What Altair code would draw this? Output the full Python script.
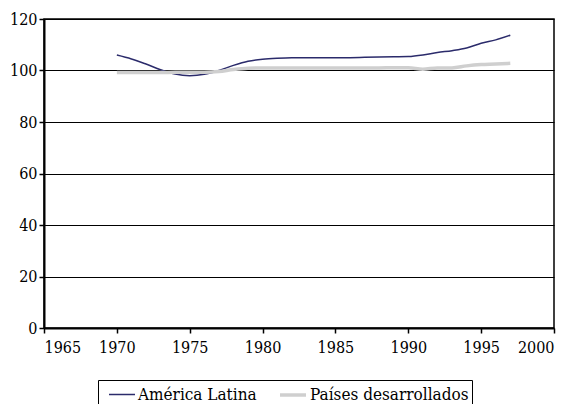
import altair as alt
import pandas as pd

years = list(range(1970, 1998))
america_latina = [106.0, 104.5, 102.5, 100.3, 98.6, 98.0, 98.5, 100.0, 102.0, 103.6,
                  104.4, 104.8, 105.0, 105.0, 105.0, 105.0, 105.0, 105.1, 105.2, 105.3,
                  105.4, 106.0, 107.0, 107.7, 108.7, 110.6, 111.9, 113.7]
paises_desarrollados = [99.2, 99.2, 99.2, 99.2, 99.3, 99.3, 99.3, 99.6, 100.4, 100.9,
                        101.0, 101.0, 101.0, 101.0, 101.0, 101.0, 101.0, 101.0, 101.0, 101.1,
                        101.1, 100.5, 101.0, 101.0, 101.8, 102.3, 102.5, 102.8]
series_names = ["América Latina", "Países desarrollados"]
series_colors = ["#2b2b6b", "#cfcfcf"]
series_widths = [1.5, 3.5]

rows = []
for y, a, p in zip(years, america_latina, paises_desarrollados):
    rows.append({"year": y, "value": a, "serie": series_names[0]})
    rows.append({"year": y, "value": p, "serie": series_names[1]})
df = pd.DataFrame(rows)

FONT = "DejaVu Serif Condensed"

chart = alt.Chart(df).mark_line(interpolate="monotone").encode(
    x=alt.X("year:Q", scale=alt.Scale(domain=[1965, 2000], nice=False),
            axis=alt.Axis(values=list(range(1965, 2001, 5)), format="d", title=None,
                          grid=False, tickSize=5, labelPadding=6)),
    y=alt.Y("value:Q", scale=alt.Scale(domain=[0, 120], nice=False),
            axis=alt.Axis(values=list(range(0, 121, 20)), title=None, grid=True,
                          tickSize=5, labelPadding=2)),
    color=alt.Color("serie:N", scale=alt.Scale(domain=series_names, range=series_colors),
                    sort=series_names, title=None),
    strokeWidth=alt.StrokeWidth("serie:N", scale=alt.Scale(domain=series_names, range=series_widths),
                                sort=series_names, title=None),
).properties(
    width=510, height=309,
    autosize=alt.AutoSizeParams(type="none"),
    padding={"left": 36, "top": 11, "right": 17, "bottom": 80},
).configure(
    font=FONT
).configure_view(
    stroke="black", strokeWidth=1.5
).configure_axis(
    labelFont=FONT, labelFontSize=16, labelColor="black",
    domainColor="black", domainWidth=2, tickColor="black", tickWidth=1.5,
    gridColor="black", gridWidth=1, gridOpacity=1,
).configure_legend(
    orient="none", legendX=54, legendY=361, direction="horizontal",
    strokeColor="black", padding=3, labelFont=FONT, labelFontSize=17,
    labelColor="black", symbolType="M-1.3,0H1.3", symbolSize=400, symbolOffset=10,
    columnPadding=14, labelOffset=5, labelLimit=300,
)

chart.save("out.html", embed_options={"renderer": "svg", "actions": False})
